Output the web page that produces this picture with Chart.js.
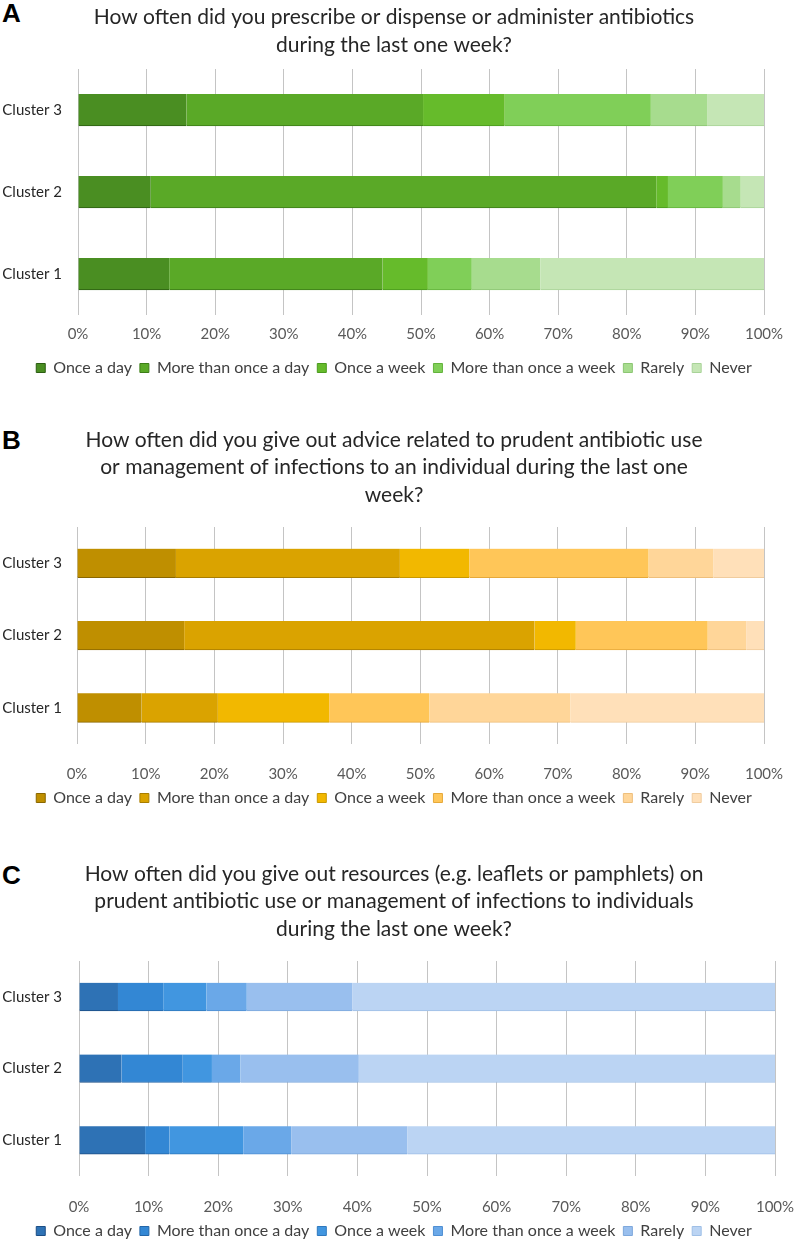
<!DOCTYPE html>
<html>
<head>
<meta charset="utf-8">
<script src="https://cdn.jsdelivr.net/npm/chart.js@4.4.1/dist/chart.umd.min.js"></script>
<style>
body { margin:0; width:797px; height:1240px; overflow:hidden; background:#fff; position:relative; }
.letter { position:absolute; left:2px; font:bold 26px "Liberation Sans", Arial, sans-serif; line-height:26px; color:#000; }
canvas { position:absolute; left:0; }
</style>
</head>
<body>
<div class="letter" style="top:0px">A</div>
<div class="letter" style="top:427px">B</div>
<div class="letter" style="top:862px">C</div>
<canvas id="chartA" width="797" height="386" style="top:0px"></canvas>
<canvas id="chartB" width="797" height="406" style="top:410px"></canvas>
<canvas id="chartC" width="797" height="409" style="top:840px"></canvas>
<script>
const clusters = ['Cluster 3', 'Cluster 2', 'Cluster 1'];
const frequencies = ['Once a day', 'More than once a day', 'Once a week', 'More than once a week', 'Rarely', 'Never'];

// A - prescribe / dispense / administer (% per cluster, in frequency order)
const prescribeCluster3 = [15.8, 34.5, 11.9, 21.3, 8.2, 8.3];
const prescribeCluster2 = [10.6, 73.7, 1.7, 8.0, 2.6, 3.4];
const prescribeCluster1 = [13.3, 31.1, 6.6, 6.4, 10.0, 32.6];

// B - advice
const adviceCluster3 = [14.4, 32.6, 10.1, 26.1, 9.4, 7.4];
const adviceCluster2 = [15.6, 51.0, 6.0, 19.2, 5.6, 2.6];
const adviceCluster1 = [9.4, 11.1, 16.2, 14.6, 20.5, 28.2];

// C - resources (leaflets)
const resourceCluster3 = [5.6, 6.5, 6.2, 5.8, 15.2, 60.7];
const resourceCluster2 = [6.1, 8.8, 4.2, 4.1, 17.0, 59.8];
const resourceCluster1 = [9.5, 3.5, 10.6, 6.9, 16.7, 52.8];

const titleA = ['How often did you prescribe or dispense or administer antibiotics', 'during the last one week?'];
const titleB = ['How often did you give out advice related to prudent antibiotic use', 'or management of infections to an individual during the last one', 'week?'];
const titleC = ['How often did you give out resources (e.g. leaflets or pamphlets) on', 'prudent antibiotic use or management of infections to individuals', 'during the last one week?'];

const greens = ['#4a8e22', '#5aa927', '#66bb2b', '#80cf58', '#a7dc8e', '#c5e6b5'];
const greenEdges = ['#2c5e12', '#3d7d18', '#4a9a1e', '#63b33c', '#8cc673', '#a8d398'];
const golds = ['#bf8f00', '#daa300', '#f2b800', '#ffc658', '#ffd699', '#ffe0b9'];
const goldEdges = ['#8a6700', '#a87d00', '#c99800', '#e6a93a', '#eebf7c', '#f0cc9e'];
const blues = ['#2e72b5', '#3387d4', '#4196e0', '#6aa8e8', '#99bfee', '#bbd4f3'];
const blueEdges = ['#1c4e85', '#2466a8', '#2f78bd', '#4f8fd3', '#7ea8dc', '#9fbfe6'];

const font = 'Lato, "Open Sans", sans-serif';

function makeChart(id, title, rows, colors, edges, o) {
  const datasets = frequencies.map((f, i) => ({
    label: f,
    data: rows.map(r => r[i]),
    backgroundColor: colors[i],
    borderColor: edges[i],
    borderWidth: {top: 0, right: 0, bottom: 1, left: 0},
    borderSkipped: false,
    barThickness: o.bar
  }));

  return new Chart(document.getElementById(id), {
    type: 'bar',
    data: { labels: clusters, datasets: datasets },
    options: {
      indexAxis: 'y',
      responsive: false,
      animation: false,
      layout: { padding: { left: 0, right: 9, top: 0, bottom: 0 } },
      plugins: {
        title: {
          display: true,
          text: title,
          color: '#262626',
          font: { family: font, size: 21, weight: 'normal', lineHeight: 27.5 / 21 },
          padding: { top: o.titleTop, bottom: o.titleBottom }
        },
        legend: {
          position: 'bottom',
          labels: {
            boxWidth: 9,
            boxHeight: 9,
            padding: 8,
            color: '#404040',
            font: { family: font, size: 16 },
            generateLabels: (chart) => chart.data.datasets.map((d, i) => ({
              text: d.label,
              fillStyle: d.backgroundColor,
              strokeStyle: edges[i],
              lineWidth: 1,
              fontColor: '#404040',
              datasetIndex: i
            }))
          }
        },
        tooltip: { enabled: false }
      },
      scales: {
        x: {
          stacked: true,
          min: 0,
          max: 100,
          grid: { color: '#c4c4c4', drawTicks: false },
          border: { display: false },
          ticks: {
            stepSize: 10,
            padding: o.tickPad,
            color: '#595959',
            font: { family: font, size: 15 },
            callback: v => v + '%'
          },
          afterFit: axis => {
            axis.height = o.axisH;
            axis.paddingLeft = 0;
            axis.paddingRight = 797 - o.right;
          }
        },
        y: {
          stacked: true,
          grid: { display: false, drawTicks: false },
          border: { display: false },
          ticks: {
            padding: o.left - 62,
            color: '#262626',
            font: { family: font, size: 15 }
          },
          afterFit: axis => { axis.width = o.left; }
        }
      }
    }
  });
}

makeChart('chartA', titleA, [prescribeCluster3, prescribeCluster2, prescribeCluster1], greens, greenEdges,
  { bar: 32, left: 78, right: 764, titleTop: 3.5, titleBottom: 10.5, tickPad: 10, axisH: 37 });
makeChart('chartB', titleB, [adviceCluster3, adviceCluster2, adviceCluster1], golds, goldEdges,
  { bar: 29, left: 77, right: 764, titleTop: 16.25, titleBottom: 18.25, tickPad: 21, axisH: 38 });
makeChart('chartC', titleC, [resourceCluster3, resourceCluster2, resourceCluster1], blues, blueEdges,
  { bar: 28, left: 79, right: 775, titleTop: 20.25, titleBottom: 18.25, tickPad: 22, axisH: 39 });
</script>
</body>
</html>
